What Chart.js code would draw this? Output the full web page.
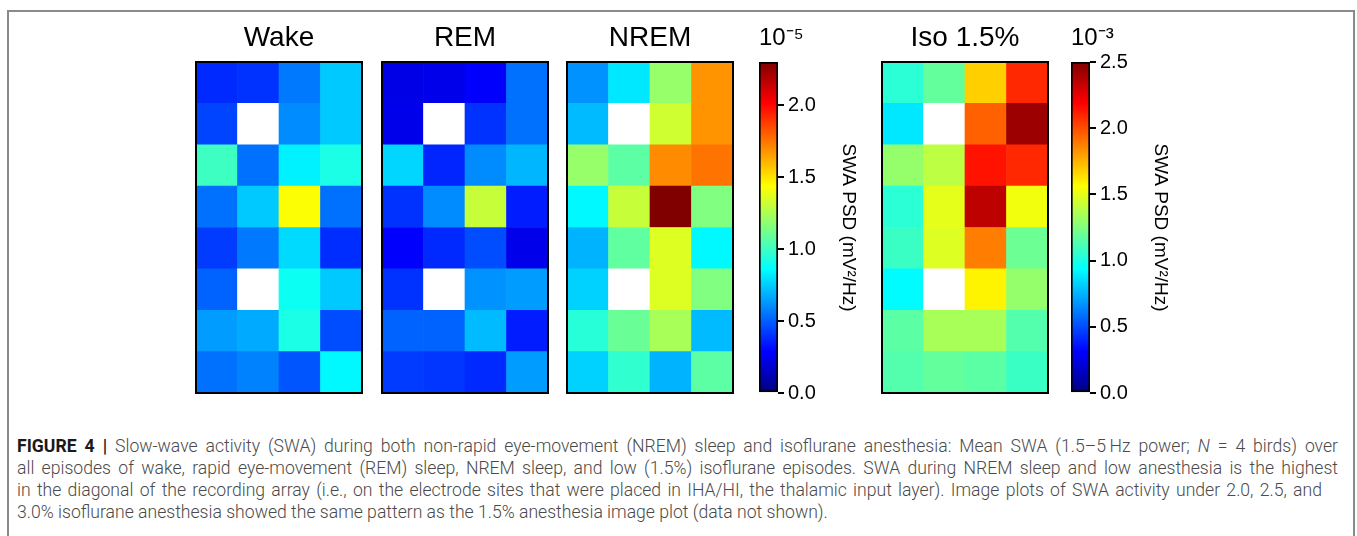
<!DOCTYPE html>
<html>
<head>
<meta charset="utf-8">
<script src="https://cdn.jsdelivr.net/npm/chart.js@4.4.1/dist/chart.umd.min.js"></script>
<style>
  body { margin: 0; background: #fff; width: 1357px; height: 536px; overflow: hidden; position: relative; font-family: "Liberation Sans", Arial, sans-serif; }
  #frame { position: absolute; left: 7px; top: 10px; width: 1344px; height: 600px; border: 2px solid #8a8a8a; border-bottom: none; }
  canvas { position: absolute; top: 0; }
  .cap { position: absolute; left: 17px; font-family: Roboto, sans-serif; font-weight: 300; font-size: 17.6px; line-height: 22px; color: #4a4a4a; white-space: nowrap; text-align: justify; text-align-last: justify; }
  .cap b { font-weight: 700; color: #1a1a1a; }
</style>
</head>
<body>
<div id="frame"></div>
<canvas id="wake" width="168" height="420" style="left:195px"></canvas>
<canvas id="rem" width="168" height="420" style="left:381px"></canvas>
<canvas id="nrem" width="168" height="420" style="left:566px"></canvas>
<canvas id="cbar1" width="111" height="420" style="left:749px"></canvas>
<canvas id="iso" width="168" height="420" style="left:881px"></canvas>
<canvas id="cbar2" width="111" height="420" style="left:1061px"></canvas>

<div class="cap" style="top:435px;width:1321px"><b>FIGURE 4 |</b> Slow-wave activity (SWA) during both non-rapid eye-movement (NREM) sleep and isoflurane anesthesia: Mean SWA (1.5–5&#8201;Hz power; <i>N</i> = 4 birds) over</div>
<div class="cap" style="top:457px;width:1321px">all episodes of wake, rapid eye-movement (REM) sleep, NREM sleep, and low (1.5%) isoflurane episodes. SWA during NREM sleep and low anesthesia is the highest</div>
<div class="cap" style="top:479px;width:1305px">in the diagonal of the recording array (i.e., on the electrode sites that were placed in IHA/HI, the thalamic input layer). Image plots of SWA activity under 2.0, 2.5, and</div>
<div class="cap" style="top:501px;text-align:left;text-align-last:left">3.0% isoflurane anesthesia showed the same pattern as the 1.5% anesthesia image plot (data not shown).</div>

<script>
// electrode grid: 8 rows (top to bottom) x 4 columns, null = no electrode
const columns = ['1', '2', '3', '4'];

// SWA PSD, x 1e-5 mV^2/Hz
const wake = [
    [0.38, 0.40, 0.56, 0.74],
    [0.44, null, 0.60, 0.74],
    [1.00, 0.54, 0.83, 0.92],
    [0.54, 0.74, 1.43, 0.54],
    [0.42, 0.56, 0.78, 0.39],
    [0.51, null, 0.89, 0.74],
    [0.64, 0.67, 0.92, 0.46],
    [0.54, 0.58, 0.48, 0.85]
];
const rem = [
    [0.23, 0.24, 0.28, 0.54],
    [0.24, null, 0.40, 0.54],
    [0.77, 0.37, 0.60, 0.70],
    [0.40, 0.60, 1.31, 0.35],
    [0.28, 0.38, 0.46, 0.24],
    [0.40, null, 0.62, 0.64],
    [0.51, 0.51, 0.71, 0.35],
    [0.42, 0.41, 0.38, 0.64]
];
const nrem = [
    [0.62, 0.81, 1.20, 1.68],
    [0.71, null, 1.33, 1.68],
    [1.20, 1.07, 1.70, 1.75],
    [0.85, 1.31, 2.30, 1.15],
    [0.69, 1.08, 1.36, 0.85],
    [0.76, null, 1.36, 1.15],
    [0.95, 1.10, 1.24, 0.71],
    [0.76, 0.97, 0.69, 1.07]
];
// SWA PSD, x 1e-3 mV^2/Hz
const iso = [
    [1.04, 1.18, 1.68, 2.09],
    [0.88, null, 1.95, 2.43],
    [1.30, 1.40, 2.14, 2.09],
    [1.04, 1.50, 2.35, 1.53],
    [1.08, 1.48, 1.88, 1.20],
    [0.93, null, 1.59, 1.30],
    [1.16, 1.35, 1.35, 1.14],
    [1.14, 1.18, 1.16, 1.08]
];

const sleepMax = 2.3;
const isoMax = 2.5;
const cbarTicks = [0, 0.5, 1.0, 1.5, 2.0, 2.5];

Chart.defaults.font.family = '"Liberation Sans", Arial, sans-serif';

// MATLAB style jet colormap
function jet(t) {
    t = Math.max(0, Math.min(1, t));
    const r = Math.max(0, Math.min(1, Math.min(4 * t - 1.5, -4 * t + 4.5)));
    const g = Math.max(0, Math.min(1, Math.min(4 * t - 0.5, -4 * t + 3.5)));
    const b = Math.max(0, Math.min(1, Math.min(4 * t + 0.5, -4 * t + 2.5)));
    return `rgb(${Math.round(r * 255)},${Math.round(g * 255)},${Math.round(b * 255)})`;
}

const frameBox = {
    id: 'frameBox',
    afterDraw(chart) {
        const a = chart.chartArea;
        const ctx = chart.ctx;
        ctx.save();
        ctx.strokeStyle = '#000';
        ctx.lineWidth = 2;
        ctx.strokeRect(a.left, a.top, a.right - a.left, a.bottom - a.top);
        ctx.restore();
    }
};

function heatmap(id, title, rows, cmax) {
    // datasets stack bottom-up, so start from the last row
    const datasets = rows.slice().reverse().map(row => ({
        data: row.map(() => 1),
        backgroundColor: row.map(v => v == null ? '#ffffff' : jet(v / cmax)),
        borderWidth: 0,
        barPercentage: 1,
        categoryPercentage: 1
    }));

    new Chart(document.getElementById(id), {
        type: 'bar',
        data: { labels: columns, datasets },
        options: {
            responsive: false,
            animation: false,
            layout: { padding: { left: 1, right: 1, bottom: 27 } },
            scales: {
                x: { stacked: true, display: false },
                y: { stacked: true, display: false, min: 0, max: rows.length }
            },
            plugins: {
                legend: { display: false },
                tooltip: { enabled: false },
                title: {
                    display: true,
                    text: title,
                    color: '#000',
                    font: { size: 28, weight: 'normal' },
                    padding: { top: 21, bottom: 7.4 }
                }
            }
        },
        plugins: [frameBox]
    });
}

function colorbar(id, exponent, cmax) {
    new Chart(document.getElementById(id), {
        type: 'bar',
        data: {
            labels: [''],
            datasets: [{
                data: [[0, cmax]],
                backgroundColor: (c) => {
                    const a = c.chart.chartArea;
                    if (!a) return '#000';
                    const g = c.chart.ctx.createLinearGradient(0, a.bottom, 0, a.top);
                    [0, 0.125, 0.375, 0.625, 0.875, 1].forEach(t => g.addColorStop(t, jet(t)));
                    return g;
                },
                borderColor: '#000',
                borderWidth: 2,
                borderSkipped: false,
                barPercentage: 1,
                categoryPercentage: 1
            }]
        },
        options: {
            responsive: false,
            animation: false,
            layout: { padding: { left: 10, right: 0, bottom: 27 } },
            scales: {
                x: { display: false },
                y: {
                    position: 'right',
                    min: 0,
                    max: cmax,
                    afterFit: (s) => { s.width = 82; },
                    afterBuildTicks: (s) => { s.ticks = cbarTicks.filter(v => v <= cmax).map(v => ({ value: v })); },
                    border: { display: false },
                    grid: { drawOnChartArea: false, drawTicks: true, tickLength: 6, tickColor: '#000', lineWidth: 2 },
                    ticks: { padding: 4, color: '#000', font: { size: 20 }, callback: v => v.toFixed(1) },
                    title: { display: true, text: 'SWA PSD (mV²/Hz)', color: '#000', font: { size: 19 }, padding: 0 }
                }
            },
            plugins: {
                legend: { display: false },
                tooltip: { enabled: false },
                title: {
                    display: true,
                    text: exponent,
                    align: 'start',
                    color: '#000',
                    font: { size: 24, weight: 'normal' },
                    padding: { top: 24, bottom: 9.2 }
                }
            }
        }
    });
}

heatmap('wake', 'Wake', wake, sleepMax);
heatmap('rem', 'REM', rem, sleepMax);
heatmap('nrem', 'NREM', nrem, sleepMax);
colorbar('cbar1', '10⁻⁵', sleepMax);
heatmap('iso', 'Iso 1.5%', iso, isoMax);
colorbar('cbar2', '10⁻³', isoMax);
</script>
</body>
</html>
